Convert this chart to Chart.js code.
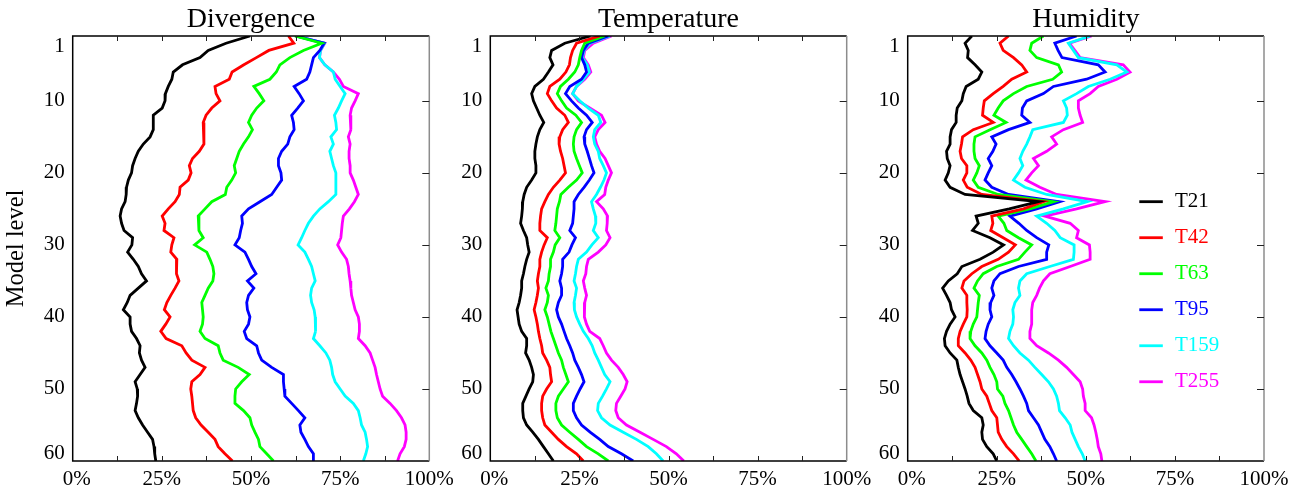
<!DOCTYPE html>
<html>
<head>
<meta charset="utf-8">
<title>Model level spectra</title>
<script src="https://cdn.jsdelivr.net/npm/chart.js@4.4.1/dist/chart.umd.min.js"></script>
<style>
  body { margin: 0; background: #fff; }
  #wrap { position: relative; width: 1302px; height: 492px; }
  #wrap canvas { position: absolute; left: 0; top: 0; }
</style>
</head>
<body>
<div id="wrap">
  <canvas id="divChart" width="1302" height="492"></canvas>
  <canvas id="tempChart" width="1302" height="492"></canvas>
  <canvas id="humChart" width="1302" height="492"></canvas>
</div>
<script>
'use strict';

const levels = [1,2,3,4,5,6,7,8,9,10,11,12,13,14,15,16,17,18,19,20,
  21,22,23,24,25,26,27,28,29,30,31,32,33,34,35,36,37,38,39,40,
  41,42,43,44,45,46,47,48,49,50,51,52,53,54,55,56,57,58,59,60];
const seriesNames = ['T21','T42','T63','T95','T159','T255'];
const seriesColors = ['#000000','#ff0000','#00ff00','#0000ff','#00ffff','#ff00ff'];
const xTicks = [0,25,50,75,100];
const yTicks = [1,10,20,30,40,50,60];

// divergence, % per model level
const divT21 = [49.7,43,38,35.7,30.8,28.2,27.8,26.8,26,25.9,25.1,22.6,22.6,22.6,21.7,19.8,18.4,17.5,16.8,16.5,
  15.6,15.1,15,14.7,13.7,13.3,13.7,14.4,16.8,16.6,15.4,17,18.4,19.3,20.7,18.4,16.1,15.3,14.2,16.1,
  16.1,16.5,17.9,18.9,18.7,19.3,20.3,18.9,17.5,18.1,18.2,17.9,17.5,18.4,19.6,21,22.4,22.8,23,23.3];
const divT42 = [60.5,62,55,51.5,48,44.7,43.9,39.9,40.2,41.3,39,37.4,36.6,36.8,36.8,36.8,35.5,33.6,32.7,33.2,
  32.4,30.1,29.9,28.7,26.8,25.1,25.9,25.6,28.4,27.8,27.5,29.2,29,29.2,29.8,28.7,27.5,26.4,25.7,27.3,
  26.1,24.7,26.2,30.6,31.8,33.4,37.1,35.7,33.4,33.1,33.4,33.6,33.8,34.5,36,38,39.9,40.8,42.7,44.8];
const divT63 = [62.3,69.8,64.7,60.9,58.1,57.1,55.3,50.8,52.3,53.6,51.6,50.2,49.3,50.4,49.3,47.9,46.7,46,45.3,45.7,
  44.6,43.2,42.8,39,37.1,35.2,35.4,35.4,36.6,34.2,37.6,38.5,39.3,39.6,39.3,38,37.1,36.2,36.4,36.6,
  36.4,35.7,37.1,40.8,41.3,42.2,46.4,49.5,47.4,45.7,45.5,45.5,47.9,49.7,50.2,51.1,52.1,52.5,54.4,56.3];
const divT95 = [62.5,70.5,69.3,67.5,67,66.5,65.6,62.1,63.5,64.7,63.1,61.4,61.9,62.1,60.9,60.3,58.6,57.7,57.7,58.4,
  58.6,57.2,55.8,52.5,49.3,47.4,47.6,47.1,46.7,45.5,48.3,49.3,50.2,51.4,49,50.8,49.3,48.8,49,49.7,
  49.3,48.1,48.8,51.6,52.1,53,55.8,59.1,59.1,59.3,59.5,61.4,63.3,65.1,63.7,64,65.1,66.1,67.5,67.5];
const divT159 = [62.5,70.6,69.5,69.2,70.7,73.1,73.6,75,76.4,75.4,74.5,73.4,73.8,74,72.4,73.1,72.1,72.6,73.1,73.8,
  73.8,73.8,73.8,71.7,69.3,67.5,66.1,65.1,64.2,63.2,65.1,66.1,67,67.5,68,67,66.7,67,67.7,68,
  68.2,68,67.5,69.3,71,72.1,72.6,72.9,73.6,75,76.4,78.7,80.1,80.6,81,82,82.4,82.7,82.2,81.5];
const divT255 = [62.6,70.7,69.5,69.2,70.7,73.1,74.8,75.9,80.1,79.2,78.2,77.8,78,78,77.3,77.8,77.5,77.5,77.8,77.8,
  78.7,79.4,80.1,79,77.6,75.9,75.6,75.4,75.2,74.3,75.4,76.8,77.3,77.5,77.8,78,78.2,78.7,79.2,80.1,
  80.4,80.4,80.1,82,83.4,84.1,84.8,85.2,85.7,86.2,86.9,89,90.8,92.2,93.2,93.5,93.5,93,91.8,91.1];

// temperature
const tempT21 = [28.1,20.9,17.2,16.7,17.6,16.3,14.9,12.5,11.6,12.1,13,13.9,15,13.9,13.2,12.8,12.5,12.5,12.8,12.8,
  11.6,10.2,9.5,9.1,9,8.8,8.5,9.3,10.2,10.5,10.9,10.2,9.7,9.3,8.8,8.8,8.5,8.1,7.5,7.8,
  8.1,8.8,10.2,10.2,9.9,10.9,11.6,12.1,11.9,10.9,10,9.1,9.1,9.3,10.2,11.9,13.5,14.9,16.3,17.7];
const tempT42 = [30.7,24.2,23.1,22.5,22.2,21.2,19.5,16.7,16,17.2,18.6,20.9,21.9,20.3,19.5,19.3,19.7,20.3,20.7,21.1,
  19.5,17.7,16.3,15.3,14.4,14.1,13.9,13.9,16,15.1,14.4,13.9,13.9,13.5,13.2,13.5,13.2,12.8,12.3,12.8,
  13.2,13.5,13.9,14.4,14.7,15.8,16.7,16.9,17.2,15.8,14.7,14.4,14.4,14.7,15.3,17.2,19.1,21.4,24.2,26.1];
const tempT63 = [32.1,26.5,25.6,25.1,24.7,23.7,21.9,19.7,18.8,20,21.4,24,25.6,24.2,23.5,23.3,23.5,24.2,25,25.8,
  24.2,21.9,19.8,19.4,18.8,18.6,18.4,18.1,19.5,18.2,17.7,16.9,16.9,16.5,16.3,15.6,16.3,16,15.3,16,
  16.5,17,17.7,18.4,19.1,20,20.5,21.2,21.9,20.5,19.1,18.4,18.4,18.8,20,22.3,24.7,27,30.3,33.1];
const tempT95 = [33.1,27.5,26.1,25.6,26.5,27,25.6,22.3,21.1,22.8,24.7,27,28.6,27,26.3,26.5,27.2,27.8,28.4,29.1,
  27.8,26.3,24.7,23.5,23.5,23.3,23.1,22.3,23.9,22.9,22.1,20.3,20.3,20,19.5,20,20,19.1,18.6,19.1,
  20,20.7,21.4,22.3,23.1,23.7,24.7,25.6,26.3,25.2,24.2,23.3,23.3,24.2,25.6,28,30.7,33.1,36.8,40.1];
const tempT159 = [33.6,28,26.3,25.8,27.2,27.8,26.1,24.2,23.1,25.1,27.5,30.3,31,29.3,28.9,29.3,30.3,30.7,31.7,32.6,
  31.9,30.9,29.8,28.4,28.9,29.5,29.6,28.9,30.3,28.5,27,24.7,24.2,23.9,23.5,24.2,23.9,23.5,23.6,24.2,
  25.1,26.1,27.5,28.6,29.3,30.3,31.2,32.1,33.6,32.6,31.5,30.3,30.1,31.2,33.6,37.3,41,44.3,46.6,48.5];
const tempT255 = [34,28.9,26.5,26.1,27.5,28.2,26.5,24.2,23.1,24.7,27.9,31.2,32.2,30.3,29.3,29.8,30.7,32.2,33.1,34,
  33.1,32.4,32.1,29.8,31.7,32.9,32.8,32.6,33.6,32.4,30.3,27.5,27,26.8,26.1,26.5,27,26.5,26.3,26.5,
  27,27.9,30.7,31.7,32.6,34,35.9,37.3,38.4,37.8,36.6,35.4,35.2,35.9,38.2,42,45.7,49.4,52.2,54.3];

// humidity
const humT21 = [18,16.1,17,16.8,18.9,20.8,19.8,16.4,15.6,15.2,13.9,13.6,13.6,12.3,11.9,11.9,10.9,11.1,11.9,11.4,
  10.5,11.9,16.1,36.7,28.5,19.2,19.8,18.2,23.1,26.9,24,20.3,15.2,13.9,11.4,9.8,10.9,11.9,12.3,13.3,
  11.9,10.9,10.3,10.5,11.9,13.8,14.2,14.7,15.4,16.1,16.7,17.2,18.4,20.8,21.2,20.8,21,22.2,24,25];
const humT42 = [28.3,25.9,26.8,29.7,32,33.4,29.2,26.8,24,21.5,21.2,21,24,18.4,15.4,15.1,14.7,15.1,16.6,16.6,
  15.6,16.7,20.8,38.1,32.5,23.6,23.9,23.3,26.8,30.2,28.3,25.4,20.8,18,15.8,15.2,16.6,16.6,16.7,16.6,
  15.6,14.7,14.2,14.2,16.1,17.7,18.9,19.6,20.3,20.8,22.2,22.9,23.6,25,25.2,25.4,26.4,27.8,29.7,31.3];
const humT63 = [38.1,34.8,34.3,36.2,42.3,43.2,40.7,33.4,29.7,26.8,25.4,24.2,27.6,23.1,18.9,18.6,18.6,18.9,20.1,19.4,
  18.4,19.8,25.4,40.9,34.3,25.4,27,27.8,31.1,34.8,32.9,31.1,25,21.2,19.6,18.6,20.1,19.8,19.6,19.4,
  18.4,17.7,17.5,18.9,20.8,22.2,23.1,24.2,25,25.2,26.7,27.3,28.3,29,29.7,30.6,32,33.4,34.8,36];
const humT95 = [47.4,41.3,42.2,43.3,53.5,55.4,50.2,40.9,38.1,33.4,32.2,32,34.3,28.3,23.6,24.8,23.9,22.6,23.6,22.6,
  21.7,23.6,28.3,42.6,36.2,28.7,31.2,33.4,36.2,39.6,39,39,31.1,25.9,24.2,23.6,24.2,23.3,23.1,23.6,
  22.6,22,21.7,23.1,25,26.8,27.8,29.2,30.4,31.5,32.5,33.4,33.9,35.3,36.7,37.6,38.5,39.9,40.9,41.8];
const humT159 = [51.2,45.1,46.5,47.9,58.7,61.5,56.8,50.7,47.4,43.7,44.6,44.8,43.7,35.1,34.3,33.4,32.3,31.5,32.3,31.1,
  29.7,32.9,39,50.4,43.7,36.2,39,41.3,42.8,46.7,46.7,46.5,39.9,33.4,31.5,31.1,31.5,30.1,29.5,29.7,
  29.5,28.7,28.3,29.7,31.5,33.9,35.7,37.6,39.5,40.9,41.8,42.3,42.6,44.2,45.6,46.1,47,47.9,49,49.8];
const humT255 = [51.6,45.4,46.9,48.4,60.5,62.4,58.7,53.5,51.2,47.9,47.9,48.4,49.1,43.7,40.4,41.8,39,35.3,36.7,34.8,
  33.2,37.1,41.8,55.4,47.4,38.5,45.6,47.9,47.4,51,51.2,51.2,45.6,39.9,38.1,37,36.2,35.1,34.8,34.8,
  34.8,34.3,34.3,36.2,39.5,42.3,44.6,46.5,48.4,49.1,49.3,49.8,49.8,51.6,52.3,52.8,53.2,53.5,54.2,54.5];

const serif = "'Liberation Serif', 'Times New Roman', serif";
Chart.defaults.font.family = serif;
Chart.defaults.color = '#000';

// panel boxes on the shared 1302px strip
const panels = [
  {id: 'divChart', title: 'Divergence', series: [divT21, divT42, divT63, divT95, divT159, divT255],
    padLeft: 0, axisWidth: 72.7, padRight: 872.7, yTitle: 'Model level'},
  {id: 'tempChart', title: 'Temperature', series: [tempT21, tempT42, tempT63, tempT95, tempT159, tempT255],
    padLeft: 440, axisWidth: 50.3, padRight: 455.3, yTitle: ''},
  {id: 'humChart', title: 'Humidity', series: [humT21, humT42, humT63, humT95, humT159, humT255],
    padLeft: 860, axisWidth: 47.7, padRight: 38, yTitle: '', key: true}
];

const minorX = [12.5,25,37.5,50,62.5,75,87.5];
const rightTicks = [10,20,30,40,50];

// box frame with inward tick marks, end labels pulled inside
const framePlugin = {
  id: 'frame',
  beforeDraw(chart) {
    const yItems = chart.scales.y.getLabelItems();
    const first = yItems[0];
    const last = yItems[yItems.length - 1];
    if (!first.moved) { first.options.translation[1] += 10; first.moved = true; }
    if (!last.moved) { last.options.translation[1] -= 8; last.moved = true; }
    const xItems = chart.scales.x.getLabelItems();
    if (!xItems[0].moved) { xItems[0].options.translation[0] += 4; xItems[0].moved = true; }
  },
  afterDatasetsDraw(chart) {
    const {ctx, chartArea: a, scales: {x, y}} = chart;
    ctx.save();
    ctx.strokeStyle = '#000';
    ctx.lineWidth = 1.5;
    ctx.beginPath();
    ctx.moveTo(a.right, a.top);
    ctx.lineTo(a.left, a.top);
    ctx.lineTo(a.left, a.bottom);
    ctx.lineTo(a.right, a.bottom);
    ctx.stroke();
    ctx.strokeStyle = '#8c8c8c';
    ctx.beginPath();
    ctx.moveTo(a.right, a.top);
    ctx.lineTo(a.right, a.bottom);
    ctx.stroke();

    ctx.strokeStyle = '#222';
    ctx.lineWidth = 1;
    ctx.beginPath();
    minorX.forEach(v => {
      const px = Math.round(x.getPixelForValue(v)) + 0.5;
      ctx.moveTo(px, a.top);
      ctx.lineTo(px, a.top + 5);
      ctx.moveTo(px, a.bottom);
      ctx.lineTo(px, a.bottom - 5);
    });
    rightTicks.forEach(v => {
      const py = Math.round(y.getPixelForValue(v)) + 0.5;
      ctx.moveTo(a.right, py);
      ctx.lineTo(a.right - 7, py);
    });
    ctx.stroke();
    ctx.restore();
  }
};

// series key drawn inside the humidity panel
const keyLevels = [24,29,34,39,44,49];
const keyPlugin = {
  id: 'lineKey',
  afterDatasetsDraw(chart) {
    const {ctx, scales: {x, y}} = chart;
    ctx.save();
    ctx.font = '21px ' + serif;
    ctx.textAlign = 'left';
    ctx.textBaseline = 'middle';
    chart.data.datasets.forEach((ds, i) => {
      const py = y.getPixelForValue(keyLevels[i]);
      ctx.strokeStyle = ds.borderColor;
      ctx.lineWidth = 2.8;
      ctx.beginPath();
      ctx.moveTo(x.getPixelForValue(65), py);
      ctx.lineTo(x.getPixelForValue(71.6), py);
      ctx.stroke();
      ctx.fillStyle = ds.borderColor;
      ctx.fillText(ds.label, x.getPixelForValue(75), py);
    });
    ctx.restore();
  }
};

function makeDatasets(series) {
  return series.map((vals, i) => ({
    label: seriesNames[i],
    data: levels.map((lv, j) => ({x: vals[j], y: lv})),
    borderColor: seriesColors[i],
    backgroundColor: seriesColors[i],
    borderWidth: 2.8,
    pointRadius: 0,
    showLine: true,
    fill: false,
    tension: 0
  }));
}

function drawPanel(p) {
  const ctx = document.getElementById(p.id).getContext('2d');
  const plugins = [framePlugin];
  if (p.key) plugins.push(keyPlugin);
  return new Chart(ctx, {
    type: 'scatter',
    data: {datasets: makeDatasets(p.series)},
    plugins: plugins,
    options: {
      responsive: false,
      animation: false,
      events: [],
      layout: {padding: {left: p.padLeft, right: p.padRight, top: 0, bottom: 0}},
      plugins: {
        legend: {display: false},
        tooltip: {enabled: false},
        title: {
          display: true,
          text: p.title,
          fullSize: false,
          color: '#000',
          font: {size: 28, weight: 'normal', lineHeight: 1.154},
          padding: {top: 3.7, bottom: 0}
        }
      },
      scales: {
        x: {
          type: 'linear',
          min: 0,
          max: 100,
          afterBuildTicks: s => { s.ticks = xTicks.map(v => ({value: v})); },
          afterFit: s => { s.height = 31; },
          ticks: {
            callback: v => v + '%',
            font: {size: 21},
            color: '#000',
            padding: 6,
            maxRotation: 0,
            autoSkip: false
          },
          grid: {display: false, drawTicks: false},
          border: {display: false}
        },
        y: {
          type: 'linear',
          reverse: true,
          min: 1,
          max: 60,
          afterBuildTicks: s => { s.ticks = yTicks.map(v => ({value: v})); },
          afterFit: s => { s.width = p.axisWidth; },
          ticks: {font: {size: 21}, color: '#000', padding: 8, autoSkip: false},
          grid: {display: false, drawTicks: false},
          border: {display: false},
          title: {
            display: p.yTitle !== '',
            text: p.yTitle,
            color: '#000',
            font: {size: 24.5},
            padding: {top: 2.3, bottom: 0}
          }
        }
      }
    }
  });
}

panels.forEach(drawPanel);
</script>
</body>
</html>
